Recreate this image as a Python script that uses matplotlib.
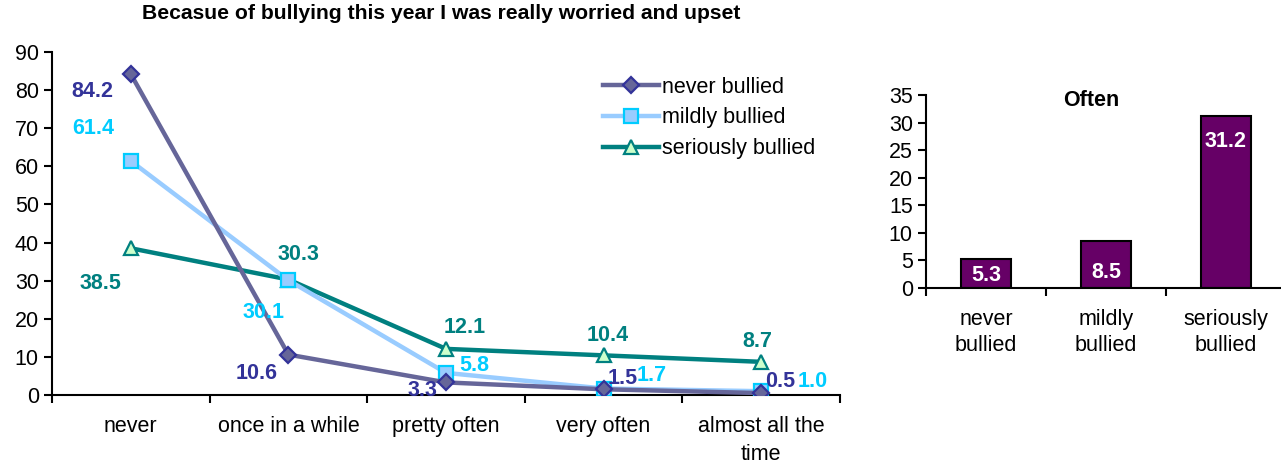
import numpy as np
import matplotlib
matplotlib.use('Agg')
import matplotlib.pyplot as plt
from matplotlib.ticker import FixedLocator, NullFormatter

plt.rcParams['font.family'] = ['Liberation Sans', 'DejaVu Sans']

# -----------------------------
# Data
# -----------------------------
categories = ['never', 'once in a while', 'pretty often', 'very often', 'almost all the\ntime']
series_names = ['never bullied', 'mildly bullied', 'seriously bullied']
never_bullied = [84.2, 10.6, 3.3, 1.5, 0.5]
mildly_bullied = [61.4, 30.1, 5.8, 1.7, 1.0]
seriously_bullied = [38.5, 30.3, 12.1, 10.4, 8.7]

bar_categories = ['never\nbullied', 'mildly\nbullied', 'seriously\nbullied']
often_values = [5.3, 8.5, 31.2]

# -----------------------------
# Styles
# -----------------------------
line_colors = ['#666699', '#99CCFF', '#008080']
marker_faces = ['#666699', '#99CCFF', '#CCFFCC']
marker_edges = ['#333399', '#00CCFF', '#008080']
label_colors = ['#333399', '#00CCFF', '#008080']
markers = ['D', 's', '^']
marker_sizes = [8, 10, 10]
# label offsets in pixels (dx, dy) for each point
label_offsets = [
    [(-38, -17), (-32, -19), (-24, -8), (19, 11), (19, 12)],
    [(-38, 32), (-25, -32), (28, 7), (48, 13), (51, 10)],
    [(-30, -35), (10, 25), (19, 21), (4, 20), (-4, 20)],
]
FS = 15.5

fig = plt.figure(figsize=(12.81, 4.65), dpi=100)
W, H = 1281, 465

# -----------------------------
# Left: line chart
# -----------------------------
ax = fig.add_axes([52 / W, 1 - 395 / H, 788 / W, 343 / H])
x = np.arange(len(categories))
all_series = [never_bullied, mildly_bullied, seriously_bullied]
for i, vals in enumerate(all_series):
    ax.plot(x, vals, color=line_colors[i], linewidth=3.2, marker=markers[i],
            markersize=marker_sizes[i], markerfacecolor=marker_faces[i],
            markeredgecolor=marker_edges[i], markeredgewidth=1.6,
            label=series_names[i], zorder=3 + (2 - i) * 0.1)
for i, vals in enumerate(all_series):
    for j, v in enumerate(vals):
        ax.annotate(f'{v:.1f}', (x[j], v), xytext=label_offsets[i][j],
                    textcoords='offset pixels', ha='center', va='center',
                    fontsize=FS, fontweight='bold', color=label_colors[i], zorder=10)

ax.set_xlim(-0.5, len(categories) - 0.5)
ax.set_ylim(0, 90)
ax.set_yticks(np.arange(0, 91, 10))
ax.xaxis.set_major_locator(FixedLocator(np.arange(-0.5, len(categories), 1.0)))
ax.xaxis.set_major_formatter(NullFormatter())
ax.xaxis.set_minor_locator(FixedLocator(x))
ax.set_xticklabels(categories, minor=True, linespacing=1.45)
ax.tick_params(axis='x', which='major', length=6, width=1.5, direction='out')
ax.tick_params(axis='x', which='minor', length=0, pad=15, labelsize=FS)
ax.tick_params(axis='y', length=6, width=1.5, direction='out', labelsize=FS)
for s in ['top', 'right']:
    ax.spines[s].set_visible(False)
for s in ['left', 'bottom']:
    ax.spines[s].set_linewidth(1.5)
ax.set_title('Becasue of bullying this year I was really worried and upset',
             fontsize=15.2, fontweight='bold', pad=24, x=0.494)
ax.legend(loc='upper left', bbox_to_anchor=(0.699, 0.928), frameon=False,
          fontsize=FS, handlelength=2.6, handletextpad=0.15, labelspacing=0.45,
          borderaxespad=0, borderpad=0)

# -----------------------------
# Right: bar chart
# -----------------------------
bx = fig.add_axes([926 / W, 1 - 288 / H, 360 / W, 193 / H])
xb = np.arange(len(bar_categories))
bars = bx.bar(xb, often_values, width=0.42, color='#660066', edgecolor='black', linewidth=1.5)
bar_label_offsets = [-17, -31, -26]
for k, (b, v) in enumerate(zip(bars, often_values)):
    bx.annotate(f'{v:.1f}', (b.get_x() + b.get_width() / 2, v),
                xytext=(0, bar_label_offsets[k]), textcoords='offset pixels',
                ha='center', va='center', color='white', fontsize=FS, fontweight='bold')
bx.set_xlim(-0.5, len(bar_categories) - 0.5)
bx.set_ylim(0, 35)
bx.set_yticks(np.arange(0, 36, 5))
bx.xaxis.set_major_locator(FixedLocator(np.arange(-0.5, len(bar_categories), 1.0)))
bx.xaxis.set_major_formatter(NullFormatter())
bx.xaxis.set_minor_locator(FixedLocator(xb))
bx.set_xticklabels(bar_categories, minor=True, linespacing=1.35)
bx.tick_params(axis='x', which='major', length=6, width=1.5, direction='out')
bx.tick_params(axis='x', which='minor', length=0, pad=15, labelsize=FS)
bx.tick_params(axis='y', length=6, width=1.5, direction='out', labelsize=FS)
for s in ['top', 'right']:
    bx.spines[s].set_visible(False)
for s in ['left', 'bottom']:
    bx.spines[s].set_linewidth(1.5)
bx.text(0.46, 0.97, 'Often', transform=bx.transAxes, ha='center', va='center',
        fontsize=FS, fontweight='bold')

fig.savefig('out.png', dpi=100)
